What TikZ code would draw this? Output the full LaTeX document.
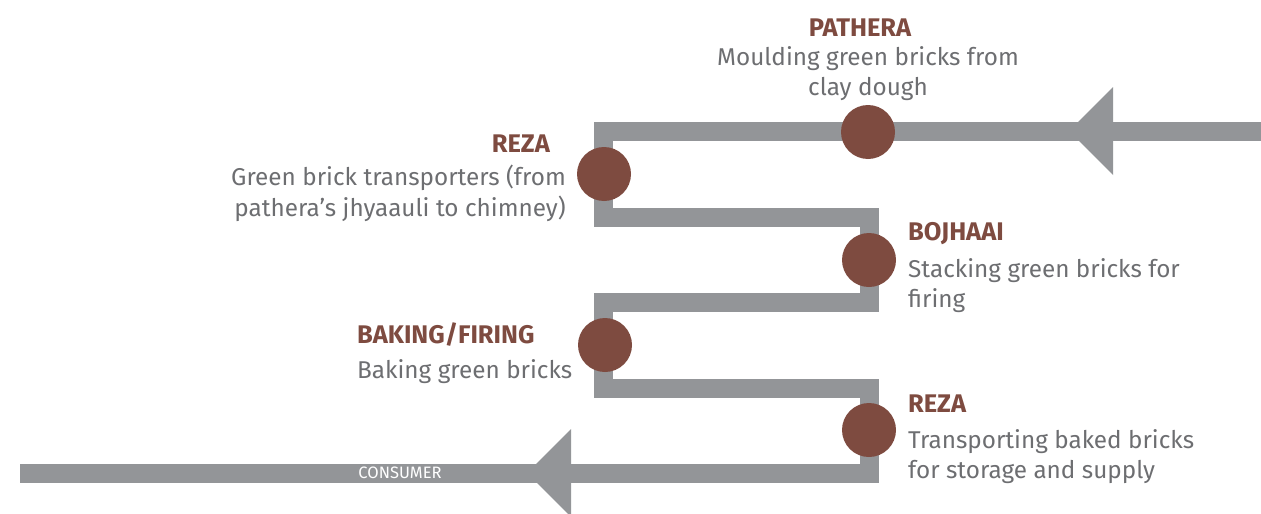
\documentclass[tikz,border=0pt]{standalone}
\usepackage{fontspec}
\setmainfont{Fira Sans}
\definecolor{flowgray}{HTML}{939598}
\definecolor{brick}{HTML}{7E4B40}
\definecolor{textgray}{HTML}{6D6E71}
\tikzset{
  flow/.style={draw=flowgray, line width=19pt, line join=miter, line cap=butt},
  tip/.style={fill=flowgray, draw=none},
  stage/.style={circle, fill=brick, draw=none, minimum size=54pt, inner sep=0pt},
  title/.style={text=brick, font=\fontsize{25.5}{30}\selectfont\bfseries, inner sep=0pt},
  desc/.style={text=textgray, font=\fontsize{24.3}{29}\selectfont, inner sep=0pt},
  tag/.style={text=white, font=\fontsize{16.5}{19}\selectfont, inner sep=0pt}
}
\begin{document}
\begin{tikzpicture}[x=1pt, y=-1pt]
\useasboundingbox (0,0) rectangle (1261,514);

% corners of the zig-zag flow
\coordinate (start) at (1261,131);
\coordinate (c1) at (603,131);
\coordinate (c2) at (603,217);
\coordinate (c3) at (869,217);
\coordinate (c4) at (869,302);
\coordinate (c5) at (603,302);
\coordinate (c6) at (603,388);
\coordinate (c7) at (869,388);
\coordinate (c8) at (869,473);
\coordinate (finish) at (20,473);

\draw[flow] (start) -- (c1) -- (c2) -- (c3) -- (c4) -- (c5) -- (c6) -- (c7) -- (c8) -- (finish);

% arrowheads on the flow
\fill[tip] (1069,131) -- (1113,87) -- (1113,175) -- cycle;
\fill[tip] (527,473) -- (571,429) -- (571,517) -- cycle;

% stages
\node[stage] (pathera) at (868,132) {};
\node[stage] (reza1) at (604,174) {};
\node[stage] (bojhaai) at (869,260) {};
\node[stage] (baking) at (605,345) {};
\node[stage] (reza2) at (869,430) {};

% labels
\node[title, anchor=base] (t1) at (860,36) {PATHERA};
\node[desc, anchor=base] (d1a) at (868,65) {Moulding green bricks from};
\node[desc, anchor=base] (d1b) at (868,95) {clay dough};

\node[title, anchor=base east] (t2) at (550,152) {REZA};
\node[desc, anchor=base east] (d2a) at (566,185) {Green brick transporters (from};
\node[desc, anchor=base east] (d2b) at (566,216) {pathera’s jhyaauli to chimney)};

\node[title, anchor=base west] (t3) at (908,240) {BOJHAAI};
\node[desc, anchor=base west] (d3a) at (908,277) {Stacking green bricks for};
\node[desc, anchor=base west] (d3b) at (908,307) {firing};

\node[title, anchor=base west] (t4) at (357,343) {BAKING/FIRING};
\node[desc, anchor=base west] (d4a) at (357,378) {Baking green bricks};

\node[title, anchor=base west] (t5) at (908,412) {REZA};
\node[desc, anchor=base west] (d5a) at (908,448) {Transporting baked bricks};
\node[desc, anchor=base west] (d5b) at (908,478) {for storage and supply};

\node[tag] (consumer) at (400,473) {CONSUMER};
\end{tikzpicture}
\end{document}
